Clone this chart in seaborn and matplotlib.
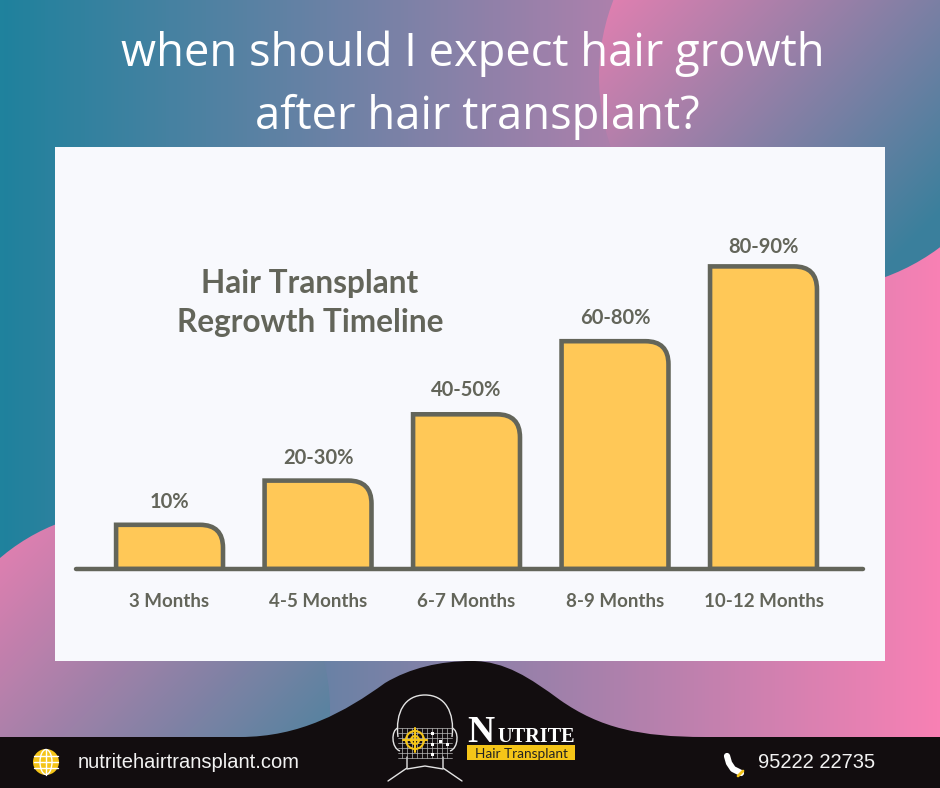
import numpy as np
import pandas as pd
import matplotlib
matplotlib.use('Agg')
import matplotlib.pyplot as plt
import seaborn as sns
from matplotlib.colors import LinearSegmentedColormap
from matplotlib.patches import PathPatch, Rectangle, Circle, Ellipse
from matplotlib.path import Path

W, H = 940, 788

months = ['3 Months', '4-5 Months', '6-7 Months', '8-9 Months', '10-12 Months']
labels = ['10%', '20-30%', '40-50%', '60-80%', '80-90%']
heights = [13, 26, 45.5, 67, 89]

title_lines = ['when should I expect hair growth', 'after hair transplant?']
chart_title = ['Hair Transplant', 'Regrowth Timeline']
website = 'nutritehairtransplant.com'
phone = '95222 22735'

DARK = '#63655a'
BAR = '#ffc857'
PANEL = '#f8f9fd'
BLACK = '#120d0f'
GOLD = '#f5c518'
LINE = '#e4e4e4'

sns.set_theme(style='white')
plt.rcParams['font.family'] = ['Lato', 'DejaVu Sans']

fig = plt.figure(figsize=(W / 100, H / 100), dpi=100)

# background layer, in pixel coordinates
bg = fig.add_axes([0, 0, 1, 1])
bg.set_xlim(0, W)
bg.set_ylim(H, 0)
bg.axis('off')

gx, gy = np.meshgrid(np.arange(W), np.arange(H))


def paint(t, colors, zorder, clip=None):
    cm = LinearSegmentedColormap.from_list('g', colors)
    im = bg.imshow(np.clip(t, 0, 1), extent=(0, W, H, 0), aspect='auto', cmap=cm,
                   vmin=0, vmax=1, zorder=zorder)
    if clip is not None:
        bg.add_patch(clip)
        im.set_clip_path(clip)


# base sweep, teal on the left to pink on the right
paint(gx / W, ['#1f829d', '#f880b4'], 0)

# top right circle
c1 = Circle((812, 77), 213, fc='none', ec='none', transform=bg.transData)
paint(((gx - 615) + gy) / 540, ['#dd7fb0', '#3a7f9c'], 1, c1)

# lower left circle
c2 = Circle((130, 710), 200, fc='none', ec='none', transform=bg.transData)
paint((gx + (gy - 557)) / 483, ['#dd7fb0', '#5a83a0'], 1, c2)

# white panel
bg.add_patch(Rectangle((55, 147), 830, 514, fc=PANEL, ec='none', zorder=3))

# footer with the hump
foot = [(0, 737), (240, 737),
        (300, 737), (345, 712), (385, 683),
        (410, 668), (440, 661), (472, 661),
        (505, 661), (530, 678), (560, 700),
        (600, 728), (640, 737), (705, 737),
        (940, 737), (940, 788), (0, 788)]
foot_codes = [Path.MOVETO, Path.LINETO] + [Path.CURVE4] * 12 + [Path.LINETO] * 3
bg.add_patch(PathPatch(Path(foot, foot_codes), fc=BLACK, ec='none', zorder=4))

# page title
for txt, x, y in zip(title_lines, [472.5, 477], [54, 117]):
    bg.text(x, y, txt, color='white', fontsize=32.6, family='Open Sans',
            ha='center', va='center', zorder=5)

# the chart itself
ax = fig.add_axes([76 / W, 1 - 569 / H, (863 - 76) / W, 340 / H])
ax.patch.set_alpha(0)
df = pd.DataFrame({'month': months, 'height': heights})
sns.barplot(data=df, x='month', y='height', width=0.72, color=BAR, saturation=1, ax=ax)
ax.set_xlim(-0.63, 4.67)
ax.set_ylim(0, 100)
ax.set_xlabel('')
ax.set_ylabel('')
ax.set_yticks([])
ax.tick_params(axis='x', length=0, pad=17.5)
ax.set_xticks(range(len(months)), months, fontsize=13.5, fontweight='bold', color=DARK)
for s in ['top', 'left', 'right']:
    ax.spines[s].set_visible(False)
ax.spines['bottom'].set_color(DARK)
ax.spines['bottom'].set_linewidth(3.2)
ax.spines['bottom'].set_capstyle('round')
ax.spines['bottom'].set_zorder(5)

# swap the square bars for ones with a rounded top right corner
rx = 23 / 148.5
ry = 23 / 3.4
gaps = [6.7, 6.7, 7.2, 6.9, 5.6]
for bar, lab, gap in zip(list(ax.patches), labels, gaps):
    x0, w, h = bar.get_x(), bar.get_width(), bar.get_height()
    x1 = x0 + w
    verts = [(x0, 0), (x0, h), (x1 - rx, h), (x1, h), (x1, h - ry), (x1, 0), (x0, 0)]
    codes = [Path.MOVETO, Path.LINETO, Path.LINETO, Path.CURVE3, Path.CURVE3, Path.LINETO, Path.CLOSEPOLY]
    bar.set_visible(False)
    ax.add_patch(PathPatch(Path(verts, codes), fc=BAR, ec=DARK, lw=3.3, joinstyle='miter', zorder=3))
    ax.text(x0 + w / 2, h + gap, lab, ha='center', va='center', fontsize=14.5,
            fontweight='bold', color=DARK)

for txt, x, y in zip(chart_title, [310, 310], [283, 322]):
    bg.text(x, y, txt, ha='center', va='center', fontsize=22.7, fontweight='bold',
            color=DARK, zorder=5)

# footer text
bg.text(78, 763, website, color='#f2f2f2', fontsize=14.5, family='Liberation Sans',
        va='center', zorder=6)
bg.text(758, 763, phone, color='#f2f2f2', fontsize=14.5, family='Liberation Sans',
        va='center', zorder=6)

# globe icon
bg.add_patch(Ellipse((46, 762), 26, 26, fc=GOLD, ec='none', zorder=6))
bg.add_patch(Ellipse((46, 762), 12, 25, fc='none', ec='white', lw=1, zorder=7))
bg.plot([46, 46], [750, 775], color='white', lw=1, zorder=7)
for yy in [756, 762, 768]:
    bg.plot([34, 58], [yy, yy], color='white', lw=1, zorder=7)

# phone icon
bg.plot([727, 729, 733, 741], [756, 763, 769, 773], color='white', lw=4.5,
        solid_capstyle='round', zorder=6)
bg.plot([738, 743], [776, 771], color=GOLD, lw=2, zorder=7)

# logo: head outline
skull = [(398, 737), (395, 712), (405, 695), (425, 695), (445, 695), (455, 712), (452, 737)]
bg.add_patch(PathPatch(Path(skull, [Path.MOVETO] + [Path.CURVE4] * 6),
                       fc='none', ec=LINE, lw=1, zorder=6))
ear_l = [(398, 728), (391, 730), (391, 748), (400, 751)]
ear_r = [(452, 728), (459, 730), (459, 748), (450, 751)]
for ear in [ear_l, ear_r]:
    bg.add_patch(PathPatch(Path(ear, [Path.MOVETO] + [Path.CURVE4] * 3),
                           fc='none', ec=LINE, lw=1, zorder=6))
bg.plot([407, 407, 388], [757, 768, 781], color=LINE, lw=1, zorder=6)
bg.plot([443, 443, 462], [757, 768, 781], color=LINE, lw=1, zorder=6)
bg.plot([407, 425, 443], [769, 766, 769], color=LINE, lw=1, zorder=6)
# logo: grid
for xx in range(402, 452, 5):
    bg.plot([xx, xx], [728, 758], color='#bbbbbb', lw=0.5, zorder=6)
for yy in range(728, 760, 5):
    bg.plot([398, 452], [yy, yy], color='#bbbbbb', lw=0.5, zorder=6)
# logo: target
bg.add_patch(Circle((415, 740), 9, fc='none', ec=GOLD, lw=1.5, zorder=7))
bg.add_patch(Circle((415, 740), 4, fc='none', ec=GOLD, lw=1.5, zorder=7))
bg.plot([403, 427], [740, 740], color=GOLD, lw=1.5, zorder=7)
bg.plot([415, 415], [728, 752], color=GOLD, lw=1.5, zorder=7)
for px, py in [(432, 733), (432, 744), (447, 744), (432, 754), (440, 741)]:
    bg.add_patch(Rectangle((px - 1.5, py - 1.5), 3, 3, fc='white', ec='none', zorder=7))
# logo: wordmark
bg.text(467, 742, 'N', color='white', fontsize=27, family='Liberation Serif', fontweight='bold',
        va='baseline', zorder=6)
bg.text(497, 742, 'UTRITE', color='white', fontsize=14.6, family='Liberation Serif', fontweight='bold',
        va='baseline', zorder=6)
bg.add_patch(Rectangle((467, 745), 108, 15, fc=GOLD, ec='none', zorder=6))
bg.text(521, 753.5, 'Hair Transplant', color='#222222', fontsize=9.8, ha='center', va='center', zorder=7)

fig.savefig('out.png', dpi=100)
